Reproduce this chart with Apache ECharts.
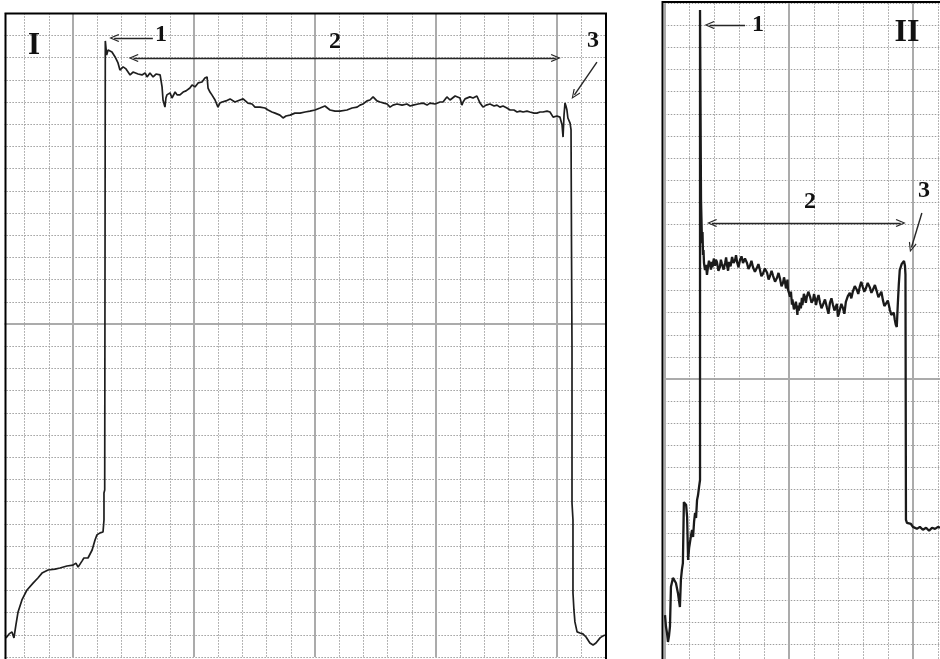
<!DOCTYPE html>
<html><head><meta charset="utf-8">
<script src="https://cdn.jsdelivr.net/npm/echarts@6/dist/echarts.min.js"></script>
<style>html,body{margin:0;padding:0;background:#fff}#c{width:940px;height:659px}</style>
</head><body><div id="c"></div>
<script>
// Values in grid divisions: [time, signal]
const rampI = [[0.23,0.86],[0.36,1.04],[0.48,1.13],[0.56,0.86],[0.64,1.44],[0.73,2.03],[0.89,2.57],[1.10,3.02],[1.35,3.33],[1.55,3.56],[1.72,3.78],[1.97,3.92],[2.26,3.96],[2.46,4.01],[2.75,4.10],[3.00,4.14],[3.12,4.23],[3.21,4.05],[3.37,4.32],[3.45,4.46],[3.62,4.46],[3.70,4.55],[3.79,4.82],[3.91,5.27],[3.99,5.50],[4.12,5.59],[4.24,5.63],[4.28,6.17],[4.28,7.39],[4.31,7.52],[4.335,27.75]];
const plateauI = [[4.39,27.12],[4.45,27.34],[4.53,27.39],[4.61,27.25],[4.74,27.03],[4.86,26.76],[4.94,26.44],[5.07,26.58],[5.19,26.49],[5.27,26.44],[5.36,26.22],[5.48,26.35],[5.56,26.31],[5.69,26.26],[5.85,26.22],[5.98,26.31],[6.06,26.13],[6.18,26.31],[6.31,26.13],[6.43,26.26],[6.51,26.31],[6.60,26.22],[6.68,25.68],[6.72,25.09],[6.80,24.77],[6.84,25.18],[6.88,25.32],[7.01,25.41],[7.09,25.18],[7.13,25.23],[7.22,25.45],[7.30,25.32],[7.42,25.32],[7.55,25.45],[7.67,25.50],[7.75,25.54],[7.83,25.63],[7.92,25.77],[8.04,25.68],[8.17,25.86],[8.33,25.90],[8.45,26.08],[8.54,26.13],[8.58,25.63],[8.66,25.45],[8.74,25.32],[8.87,25.09],[8.99,24.77],[9.07,24.95],[9.16,25.00],[9.32,25.05],[9.49,25.14],[9.69,25.00],[9.90,25.09],[10.03,25.14],[10.23,24.95],[10.40,24.91],[10.52,24.77],[10.73,24.77],[10.93,24.73],[11.06,24.64],[11.22,24.55],[11.35,24.50],[11.55,24.41],[11.68,24.28],[11.80,24.37],[11.97,24.41],[12.17,24.50],[12.38,24.50],[12.59,24.55],[12.79,24.59],[13.00,24.64],[13.21,24.73],[13.41,24.82],[13.62,24.64],[13.83,24.59],[14.03,24.59],[14.32,24.64],[14.53,24.73],[14.74,24.77],[14.86,24.86],[14.98,24.91],[15.15,25.05],[15.27,25.09],[15.40,25.23],[15.56,25.05],[15.69,25.00],[15.85,24.95],[15.98,24.91],[16.10,24.77],[16.22,24.86],[16.39,24.91],[16.60,24.86],[16.80,24.91],[16.93,24.82],[17.05,24.86],[17.26,24.91],[17.46,24.95],[17.63,24.86],[17.75,24.95],[17.96,24.91],[18.17,25.00],[18.29,25.00],[18.45,25.23],[18.58,25.09],[18.66,25.18],[18.79,25.27],[18.87,25.32],[18.99,25.18],[19.07,24.86],[19.12,25.00],[19.20,25.14],[19.28,25.23],[19.40,25.23],[19.53,25.18],[19.69,25.27],[19.82,24.95],[19.94,24.77],[20.07,24.86],[20.23,24.91],[20.40,24.82],[20.52,24.86],[20.64,24.77],[20.77,24.82],[20.93,24.73],[21.06,24.64],[21.22,24.64],[21.35,24.55],[21.47,24.59],[21.60,24.55],[21.76,24.59],[21.88,24.55],[22.05,24.50],[22.17,24.50],[22.30,24.55],[22.42,24.55],[22.59,24.59],[22.71,24.55],[22.84,24.32],[23.00,24.37],[23.12,24.32],[23.21,23.96],[23.25,23.42],[23.29,24.41],[23.33,24.95],[23.37,24.82],[23.41,24.64],[23.45,24.28],[23.54,24.05],[23.58,23.74]];
const fallI = [[23.60,18.33],[23.62,13.83],[23.62,6.94],[23.66,6.17],[23.66,2.88],[23.70,2.12],[23.74,1.58],[23.83,1.13],[23.95,1.08],[24.07,1.04],[24.20,0.90],[24.36,0.63],[24.49,0.54],[24.61,0.63],[24.78,0.86],[24.90,0.95],[24.98,0.99]];

const rampII = [[0.01,2.32],[0.05,1.79],[0.09,1.51],[0.13,1.10],[0.17,1.37],[0.21,1.79],[0.25,3.60],[0.33,4.00],[0.41,3.91],[0.45,3.77],[0.53,3.32],[0.61,2.68],[0.65,3.91],[0.69,4.36],[0.73,4.67],[0.77,7.43],[0.81,7.52],[0.86,7.30],[0.90,6.76],[0.94,4.81],[0.98,5.35],[1.02,5.40],[1.06,5.94],[1.10,6.17],[1.14,5.85],[1.18,6.53],[1.22,6.94],[1.26,6.71],[1.30,7.52],[1.34,7.75],[1.38,8.11],[1.42,8.43],[1.42,29.70]];
const plateauII = [[1.46,21.10],[1.50,19.15],[1.52,19.65],[1.54,18.61],[1.56,18.83],[1.58,18.25],[1.62,17.93],[1.66,18.16],[1.70,17.71],[1.74,18.07],[1.78,18.35],[1.82,18.21],[1.86,17.95],[1.90,18.30],[1.92,18.05],[1.94,18.25],[1.98,18.45],[2.02,18.12],[2.06,18.40],[2.10,18.30],[2.16,17.90],[2.22,18.07],[2.26,18.40],[2.30,18.21],[2.37,17.95],[2.43,18.25],[2.47,18.50],[2.51,18.12],[2.55,17.90],[2.59,18.30],[2.65,18.10],[2.71,18.52],[2.77,18.25],[2.83,18.39],[2.87,18.60],[2.91,18.30],[2.97,18.05],[3.03,18.39],[3.09,18.55],[3.15,18.25],[3.23,18.45],[3.31,18.25],[3.37,17.98],[3.43,18.12],[3.49,18.35],[3.55,18.07],[3.63,17.85],[3.71,18.03],[3.77,18.20],[3.83,17.94],[3.89,17.65],[3.95,17.76],[4.03,18.00],[4.12,17.81],[4.18,17.50],[4.24,17.67],[4.30,17.90],[4.36,17.67],[4.44,17.40],[4.52,17.58],[4.58,17.80],[4.64,17.53],[4.70,17.20],[4.76,17.35],[4.80,17.60],[4.84,17.40],[4.88,17.10],[4.92,17.31],[4.94,17.50],[4.96,17.04],[5.00,16.90],[5.04,16.72],[5.08,16.95],[5.12,16.36],[5.14,16.60],[5.16,16.45],[5.20,16.15],[5.24,16.27],[5.28,16.50],[5.32,16.14],[5.34,15.90],[5.36,16.32],[5.40,16.10],[5.44,16.45],[5.48,16.20],[5.52,16.67],[5.54,16.35],[5.56,16.49],[5.60,16.85],[5.64,16.72],[5.68,16.45],[5.72,16.72],[5.78,16.95],[5.85,16.72],[5.91,16.45],[5.97,16.58],[6.01,16.85],[6.05,16.63],[6.09,16.35],[6.13,16.58],[6.19,16.80],[6.25,16.45],[6.31,16.20],[6.37,16.36],[6.45,16.60],[6.53,16.22],[6.59,15.95],[6.65,16.45],[6.71,16.65],[6.77,16.36],[6.83,16.10],[6.89,16.14],[6.93,16.40],[6.97,15.82],[7.01,15.95],[7.05,16.14],[7.11,16.40],[7.17,16.22],[7.23,15.95],[7.29,16.49],[7.37,16.75],[7.45,16.90],[7.51,16.65],[7.57,16.95],[7.65,17.20],[7.73,17.04],[7.79,16.85],[7.85,17.17],[7.91,17.40],[7.97,17.17],[8.03,16.95],[8.09,17.08],[8.17,17.35],[8.26,17.13],[8.32,16.90],[8.38,17.04],[8.46,17.25],[8.54,16.95],[8.60,16.70],[8.66,16.77],[8.72,16.95],[8.78,16.58],[8.84,16.30],[8.90,16.40],[8.98,16.55],[9.06,16.14],[9.12,15.90],[9.18,15.86],[9.22,16.00],[9.26,15.68],[9.30,15.45],[9.34,15.35],[9.38,16.35],[9.42,17.25],[9.46,17.93],[9.54,18.21],[9.59,18.30],[9.63,18.34],[9.67,18.12],[9.69,17.72]];
const fallII = [[9.71,6.62],[9.75,6.49],[9.83,6.40],[9.91,6.44],[9.99,6.31],[10.07,6.35],[10.15,6.22],[10.27,6.31],[10.39,6.18],[10.52,6.27],[10.64,6.13],[10.76,6.27],[10.88,6.22],[11.00,6.31],[11.08,6.27]];

// annotation arrows in data units: [from, to, headAtStart]
const arrowsI = [[[6.30,27.88],[4.70,27.88],false],[[5.50,26.98],[22.95,26.98],true],[[24.65,26.80],[23.72,25.32],false]];
const arrowsII = [[[3.23,29.02],[1.80,29.02],false],[[1.90,20.06],[9.50,20.06],true],[[10.35,20.51],[9.93,18.95],false]];
const panelLabels = [['I',34,46,31],['1',161,35,24],['2',335,42,24],['3',593,41,24],['1',758,25,24],['II',907,33,32],['2',810,202,24],['3',924,191,24]];

const MINOR = '#9e9e9e', MAJOR = '#ababab', T = 'rgba(0,0,0,0)';
const CHEV = 'path://M5,0 L10,10 L8.7,10.7 L5,2.9 L1.3,10.7 L0,10 Z';

function hid(o){ return Object.assign({type:'value', axisLine:{show:false}, axisTick:{show:false}, axisLabel:{show:false}}, o); }
function minorLine(){ return {show:true, showMaxLine:true, lineStyle:{color:MINOR, width:1, type:[1.5,1.5]}}; }
function majorLine(colors){ return {show:true, showMaxLine:false, lineStyle:{color:colors, width:2, type:'solid'}}; }
function arrowData(list){
  return list.map(a => [
    {coord:a[0], symbol: a[2] ? CHEV : 'none', symbolSize:[8,10]},
    {coord:a[1], symbol: CHEV, symbolSize:[8,10]}
  ]);
}
function markArrows(list){
  return {silent:true, animation:false, symbol:['none','none'], label:{show:false},
    emphasis:{disabled:true}, lineStyle:{color:'#262626', width:1.4, type:'solid'},
    itemStyle:{color:'#262626'}, data: arrowData(list)};
}

const chart = echarts.init(document.getElementById('c'), null, {renderer:'canvas'});
chart.setOption({
  animation:false,
  backgroundColor:'#fff',
  grid:[
    {left:0.4, top:13.2, width:605, height:643.8, outerBoundsMode:'none'},
    {left:664.75, top:3.3, width:275.25, height:663, outerBoundsMode:'none'}
  ],
  xAxis:[
    hid({gridIndex:0, min:0, max:25, interval:1, splitLine:minorLine()}),
    hid({gridIndex:0, min:0, max:25, interval:1, splitLine:majorLine([T,T,T,MAJOR,T])}),
    hid({gridIndex:1, min:0, max:11.08, interval:1, splitLine:minorLine()}),
    hid({gridIndex:1, min:0, max:11.08, interval:5, splitLine:majorLine([MAJOR])})
  ],
  yAxis:[
    hid({gridIndex:0, min:0, max:29, interval:1, splitLine:minorLine()}),
    hid({gridIndex:0, min:0, max:29, interval:15, splitLine:majorLine([T,MAJOR])}),
    hid({gridIndex:1, min:0, max:30, interval:1, splitLine:minorLine()}),
    hid({gridIndex:1, min:0, max:30, interval:13, splitLine:majorLine([T,MAJOR,T])})
  ],
  series:[
    {type:'line', xAxisIndex:0, yAxisIndex:0, data: rampI.concat(plateauI, fallI), showSymbol:false, symbol:'none',
     lineStyle:{color:'#1e1e1e', width:1.7}, z:5, markLine: markArrows(arrowsI)},
    {type:'line', xAxisIndex:2, yAxisIndex:2, data: rampII.concat(plateauII, fallII), showSymbol:false, symbol:'none',
     lineStyle:{color:'#1a1a1a', width:2.3}, z:5, markLine: markArrows(arrowsII)}
  ],
  graphic:[
    {type:'rect', z:99, shape:{x:0, y:0, width:4.5, height:659}, style:{fill:'#fff'}},
    {type:'rect', z:100, shape:{x:5.5, y:13.5, width:600.5, height:700}, style:{fill:'none', stroke:'#000', lineWidth:2}},
    {type:'rect', z:100, shape:{x:662.5, y:2, width:300, height:700}, style:{fill:'none', stroke:'#000', lineWidth:2}}
  ].concat(panelLabels.map(l => ({
    type:'text', z:101, x:l[1], y:l[2],
    style:{text:l[0], fill:'#111', font:'bold ' + l[3] + 'px "Liberation Serif", "DejaVu Serif", serif', align:'center', verticalAlign:'middle'}
  })))
});
</script></body></html>
